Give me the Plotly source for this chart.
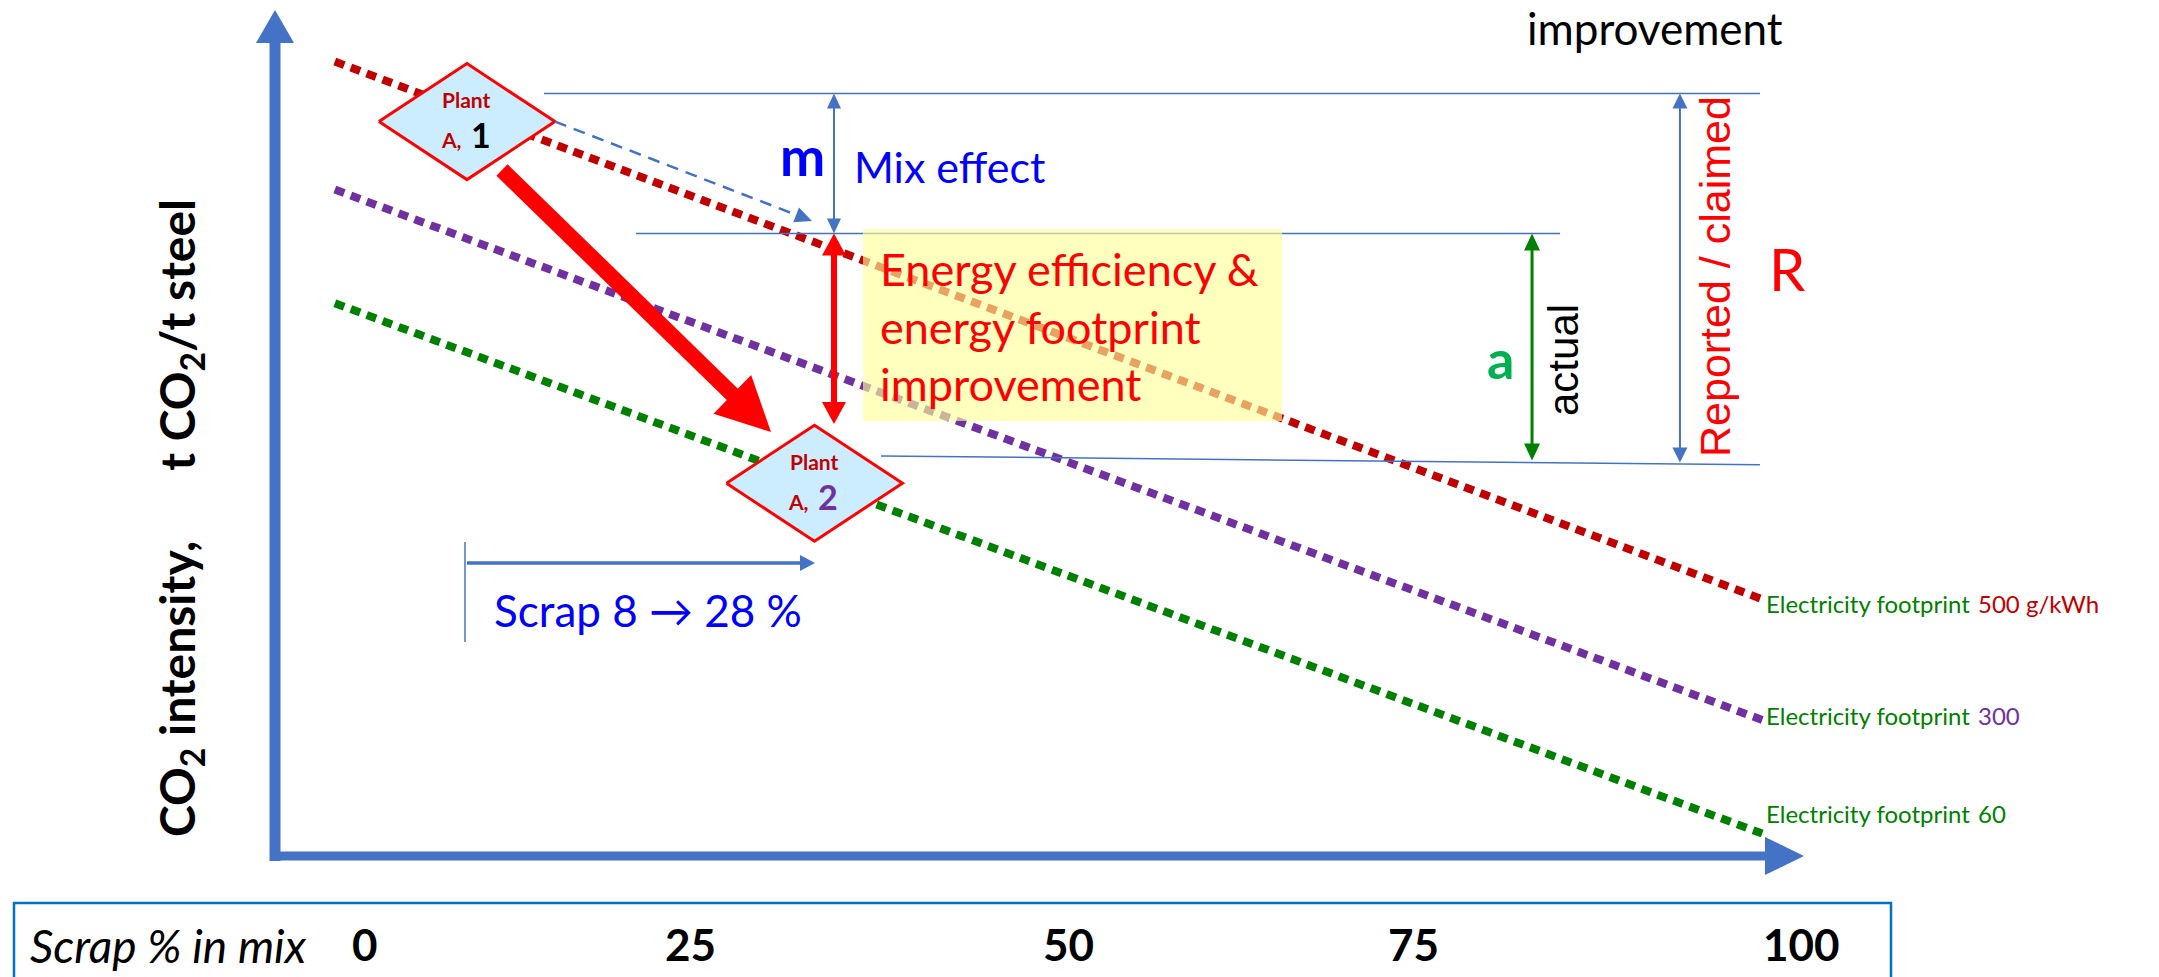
import math
import plotly.graph_objects as go

# ---------------- data (schematic units) ----------------
# x = scrap share in the charge mix (%), y = CO2 intensity index (t CO2 / t steel, schematic)
line_scrap = [-2.1, 97.3]
int_500 = [9.93, 3.21]     # electricity footprint 500 g/kWh
int_300 = [8.33, 1.70]     # electricity footprint 300
int_60 = [6.91, 0.28]      # electricity footprint 60
footprint_values = ["500 g/kWh", "300", "60"]

plant_names = ["1", "2"]
plant_scrap = [7.1, 31.3]
plant_intensity = [9.18, 4.66]

level_reported = 9.53          # plant A,1 reported level
level_mix = 7.78               # level after pure mix effect
level_after = [5.00, 4.89]     # plant A,2 level (slightly tilted line)
level_top_x = [12.47, 97.14]
level_mid_x = [18.87, 83.22]
level_bot_x = [35.93, 97.14]
arrow_m_x = 32.66
arrow_a_x = 81.27
arrow_R_x = 91.57

scrap_from, scrap_to = 8, 28
tick_labels = ["0", "25", "50", "75", "100"]

# ---------------- layout helpers ----------------
W, H = 2159, 977
X0, XS = 365.0, 14.36
Y0, YS = 856.0, 80.0


def P(px, py):
    return ((px - X0) / XS, (Y0 - py) / YS)


def D(x, y):
    return (X0 + x * XS, Y0 - y * YS)


BLUE = "#4472C4"
RED = "#FF0000"
DRED = "#C00000"
PURPLE = "#7030A0"
GREEN = "#008000"
TXTBLUE = "#0000FF"
FONT = "Lato"
ARIAL = "Liberation Sans"

shapes = []
annotations = []


def seg(p0, p1, color, width, dash="solid", layer="above"):
    x0, y0 = P(*p0)
    x1, y1 = P(*p1)
    shapes.append(dict(type="line", xref="x", yref="y", x0=x0, y0=y0, x1=x1, y1=y1,
                       line=dict(color=color, width=width, dash=dash), layer=layer))


def tri(tip, u, length, hw, color):
    bx, by = tip[0] - u[0] * length, tip[1] - u[1] * length
    nx, ny = -u[1], u[0]
    pts = [tip, (bx + nx * hw, by + ny * hw), (bx - nx * hw, by - ny * hw)]
    dp = [P(*p) for p in pts]
    path = "M {} {} L {} {} L {} {} Z".format(dp[0][0], dp[0][1], dp[1][0], dp[1][1], dp[2][0], dp[2][1])
    shapes.append(dict(type="path", xref="x", yref="y", path=path, fillcolor=color,
                       line=dict(width=0), layer="above"))


def arrow(p0, p1, color, width, hl, hw, both=False, dash="solid"):
    dx, dy = p1[0] - p0[0], p1[1] - p0[1]
    n = math.hypot(dx, dy)
    u = (dx / n, dy / n)
    start = (p0[0] + u[0] * hl * 0.8, p0[1] + u[1] * hl * 0.8) if both else p0
    end = (p1[0] - u[0] * hl * 0.8, p1[1] - u[1] * hl * 0.8)
    seg(start, end, color, width, dash)
    tri(p1, u, hl, hw, color)
    if both:
        tri(p0, (-u[0], -u[1]), hl, hw, color)


def txt(px, py, text, size, color="black", family=FONT, weight="normal", style="normal",
        xanchor="center", angle=0):
    x, y = P(px, py)
    annotations.append(dict(x=x, y=y, xref="x", yref="y", text=text, showarrow=False,
                            xanchor=xanchor, yanchor="middle", textangle=angle,
                            font=dict(family=family, size=size, color=color, weight=weight, style=style)))


fig = go.Figure()

# footprint lines
for ys, col in [(int_500, DRED), (int_300, PURPLE), (int_60, GREEN)]:
    fig.add_trace(go.Scatter(x=line_scrap, y=ys, mode="lines", hoverinfo="skip",
                             line=dict(color=col, width=8, dash="10px,7px")))

# plants (diamonds)
HWX, HHY = 88 / XS, 58 / YS
for sx, sy in zip(plant_scrap, plant_intensity):
    fig.add_trace(go.Scatter(x=[sx - HWX, sx, sx + HWX, sx, sx - HWX],
                             y=[sy, sy + HHY, sy, sy - HHY, sy],
                             mode="lines", fill="toself", fillcolor="#CCECFF",
                             line=dict(color=RED, width=3), hoverinfo="skip"))

# axes (thick blue arrows)
seg((275, 861), (275, 38), BLUE, 11)
tri((275, 10), (0, -1), 33, 19, BLUE)
seg((271, 856), (1770, 856), BLUE, 9)
tri((1804, 856), (1, 0), 39, 19, BLUE)

# level lines
for xs, ys in [(level_top_x, [level_reported, level_reported]),
               (level_mid_x, [level_mix, level_mix]),
               (level_bot_x, level_after)]:
    shapes.append(dict(type="line", xref="x", yref="y", x0=xs[0], y0=ys[0], x1=xs[1], y1=ys[1],
                       line=dict(color=BLUE, width=1.5), layer="above"))

# yellow box
bx0, by0 = P(863, 229)
bx1, by1 = P(1282, 421)
shapes.append(dict(type="rect", xref="x", yref="y", x0=bx0, y0=by0, x1=bx1, y1=by1,
                   fillcolor="rgba(255,255,153,0.64)", line=dict(width=0), layer="above"))

# vertical measurement arrows
m_top = D(arrow_m_x, level_reported)
m_bot = D(arrow_m_x, level_mix)
arrow(m_top, m_bot, BLUE, 2, 15, 7, both=True)
e_top = D(arrow_m_x, level_mix)
e_bot = (e_top[0], 424)
arrow(e_top, e_bot, RED, 6, 22, 12, both=True)
a_top = D(arrow_a_x, level_mix)
a_bot = D(arrow_a_x, (level_after[0] + level_after[1]) / 2)
arrow(a_top, a_bot, GREEN, 3, 17, 8, both=True)
r_top = D(arrow_R_x, level_reported)
r_bot = D(arrow_R_x, level_after[1] + 0.03)
arrow(r_top, r_bot, BLUE, 2, 15, 7.5, both=True)

# dashed mix-effect arrow from plant A,1
p1 = D(plant_scrap[0], plant_intensity[0])
arrow((p1[0] + 88, p1[1]), (812, 221), BLUE, 2.5, 17, 8, dash="12px,8px")

# thick red arrow plant 1 -> plant 2
arrow((502, 170), (771, 432), RED, 16, 54, 27)

# scrap change arrow
seg((465, 542), (465, 642), BLUE, 1.5)
arrow((467, 563), (815, 563), BLUE, 3.5, 15, 8)

# table at bottom
tx0, ty0 = P(14, 903)
tx1, ty1 = P(1891, 1010)
shapes.append(dict(type="rect", xref="x", yref="y", x0=tx0, y0=ty0, x1=tx1, y1=ty1,
                   fillcolor="rgba(0,0,0,0)", line=dict(color="#0070C0", width=2.5), layer="above"))

# ---------------- texts ----------------
txt(1655, 28, "improvement", 44)
txt(802, 155, "m", 54, TXTBLUE, weight="bold")
txt(852, 166, "Mix effect", 43, TXTBLUE, xanchor="left")
txt(878, 269, "Energy efficiency &amp;", 45, RED, xanchor="left")
txt(878, 327, "energy footprint", 45, RED, xanchor="left")
txt(878, 384, "improvement", 45, RED, xanchor="left")
txt(1500, 358, "a", 54, "#00B050", weight="bold")
txt(1563, 360, "actual", 42, "black", family=ARIAL, angle=-90)
txt(1715, 277, "Reported / claimed", 43, RED, family=ARIAL, angle=-90)
txt(1787, 268, "R", 58, RED)

fp_cols = [DRED, PURPLE, GREEN]
fp_y = [603, 715, 813]
for val, col, yy in zip(footprint_values, fp_cols, fp_y):
    txt(1764, yy, "Electricity footprint", 24, GREEN, xanchor="left")
    txt(1976, yy, val, 24, col, xanchor="left")

# plant labels
for name, sx, sy, numcol in zip(plant_names, plant_scrap, plant_intensity, ["black", PURPLE]):
    cx, cy = D(sx, sy)
    txt(cx, cy - 22, "Plant", 21, DRED, weight="bold")
    txt(cx - 3, cy + 18, "A,", 21, DRED, weight="bold", xanchor="right")
    txt(cx + 2, cy + 13, name, 34, numcol, weight="bold", xanchor="left")

txt(492, 610, "Scrap %d → %d %%" % (scrap_from, scrap_to), 44, TXTBLUE, xanchor="left")

txt(180, 518, "CO<sub>2</sub> intensity,&nbsp;&nbsp;&nbsp;&nbsp;&nbsp;&nbsp;t CO<sub>2</sub>/t steel", 48,
    "black", weight="bold", angle=-90)

txt(28, 945, "Scrap % in mix", 46, "black", style="italic", xanchor="left")
tick_px = [365, 690, 1068, 1413, 1801]
for lab, tx in zip(tick_labels, tick_px):
    txt(tx, 944, lab, 44, "black", weight="bold")

fig.update_layout(
    width=W, height=H, autosize=False,
    margin=dict(l=0, r=0, t=0, b=0, pad=0),
    paper_bgcolor="white", plot_bgcolor="white",
    showlegend=False,
    xaxis=dict(range=[-X0 / XS, (W - X0) / XS], visible=False, fixedrange=True),
    yaxis=dict(range=[(Y0 - H) / YS, Y0 / YS], visible=False, fixedrange=True),
    shapes=shapes, annotations=annotations,
)

fig.write_html("out.html")
